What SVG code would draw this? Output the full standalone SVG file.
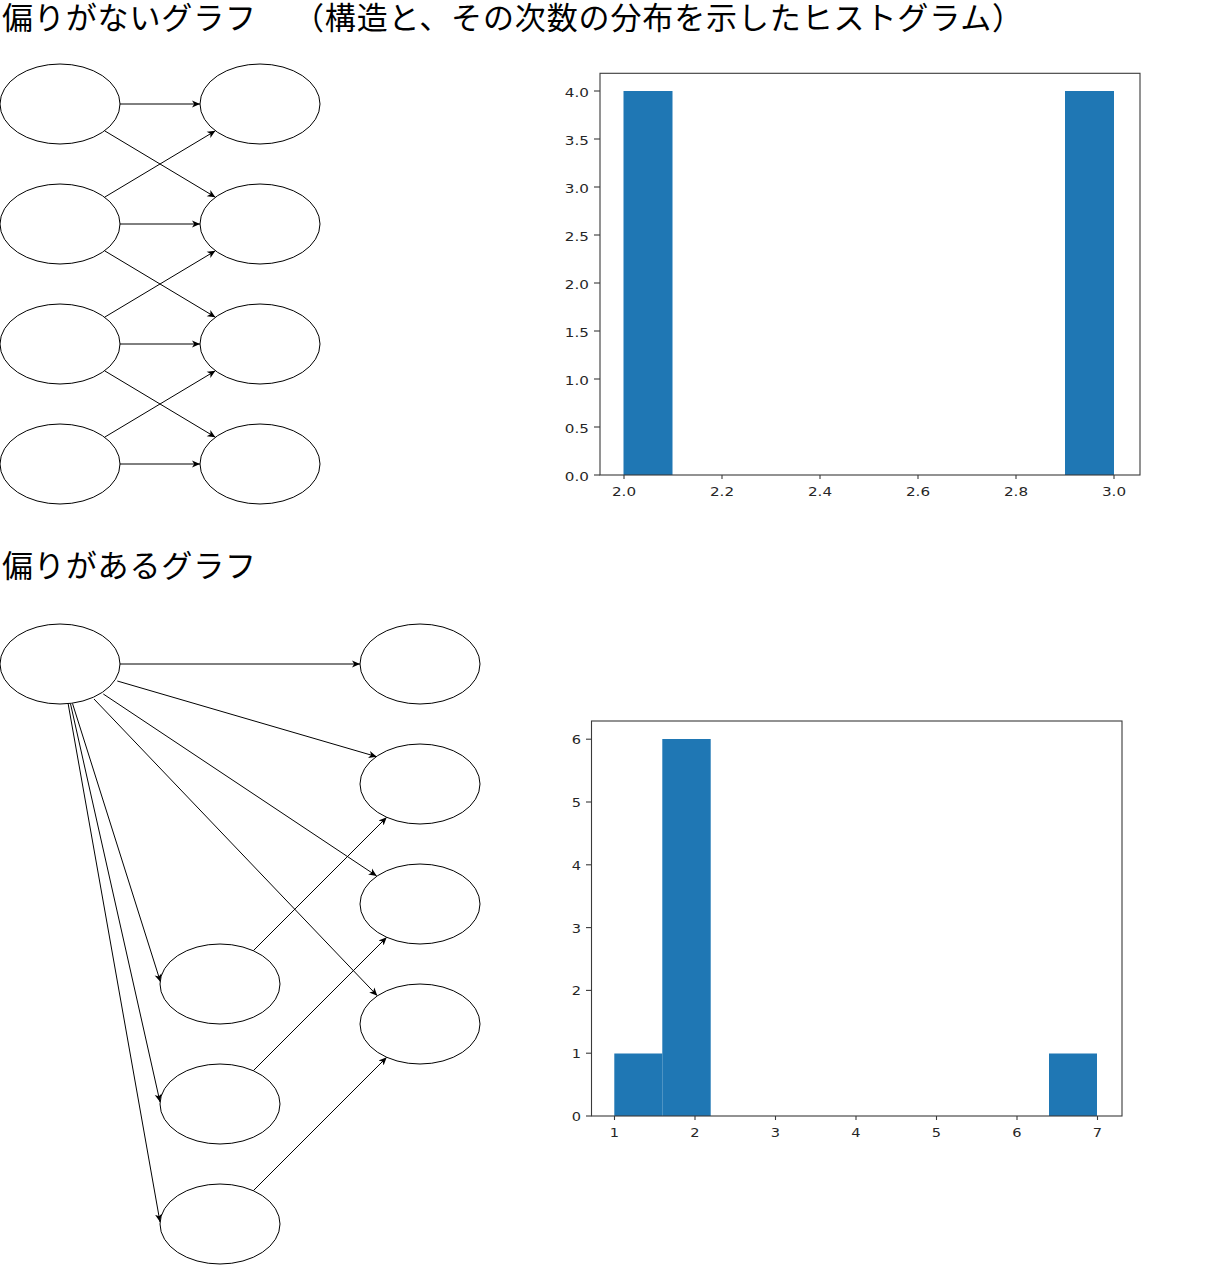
<svg xmlns="http://www.w3.org/2000/svg" width="1221" height="1265" viewBox="0 0 1221 1265">
<style>
.node{fill:#fff;stroke:#000;stroke-width:1}
.edge{fill:none;stroke:#000;stroke-width:1;marker-end:url(#arr)}
.title{font-family:"Noto Sans CJK JP","Noto Sans",sans-serif;font-size:31px;fill:#000}
.frame{fill:none;stroke:#3a3a3a;stroke-width:1.1}
.tick{stroke:#3a3a3a;stroke-width:1.1}
.bar{fill:#1f77b4}
.lbl1{font-family:"DejaVu Sans",sans-serif;font-size:11.5px;fill:#262626}
.lbl2{font-family:"DejaVu Sans",sans-serif;font-size:13px;fill:#262626}
</style>
<defs>
<marker id="arr" markerUnits="userSpaceOnUse" markerWidth="10" markerHeight="10" refX="8" refY="4" orient="auto" viewBox="0 0 10 8">
<path d="M0,0.4 L8,4 L0,7.6 L2.2,4 Z" fill="#000"/>
</marker>
</defs>
<rect width="1221" height="1265" fill="#fff"/>

<text class="title" x="2" y="29" textLength="254" lengthAdjust="spacing">偏りがないグラフ</text>
<text class="title" x="293" y="29" textLength="730" lengthAdjust="spacing">（構造と、その次数の分布を示したヒストグラム）</text>
<text class="title" x="2" y="577" textLength="254" lengthAdjust="spacing">偏りがあるグラフ</text>

<g id="connectors">
<line class="edge" x1="120" y1="104" x2="200" y2="104"/>
<line class="edge" x1="120" y1="224" x2="200" y2="224"/>
<line class="edge" x1="120" y1="344" x2="200" y2="344"/>
<line class="edge" x1="120" y1="464" x2="200" y2="464"/>
<line class="edge" x1="104.6" y1="130.8" x2="215.4" y2="197.2"/>
<line class="edge" x1="104.6" y1="197.2" x2="215.4" y2="130.8"/>
<line class="edge" x1="104.6" y1="250.8" x2="215.4" y2="317.2"/>
<line class="edge" x1="104.6" y1="317.2" x2="215.4" y2="250.8"/>
<line class="edge" x1="104.6" y1="370.8" x2="215.4" y2="437.2"/>
<line class="edge" x1="104.6" y1="437.2" x2="215.4" y2="370.8"/>

<line class="edge" x1="120" y1="664" x2="360" y2="664"/>
<line class="edge" x1="117.3" y1="681" x2="376.7" y2="756.7"/>
<line class="edge" x1="103.3" y1="694" x2="376.7" y2="876"/>
<line class="edge" x1="94" y1="699" x2="377.3" y2="995.7"/>
<line class="edge" x1="72.5" y1="703.5" x2="160.5" y2="982"/>
<line class="edge" x1="70.5" y1="703.8" x2="160" y2="1102"/>
<line class="edge" x1="68.2" y1="704" x2="160" y2="1222"/>
<line class="edge" x1="253.3" y1="950.7" x2="386.7" y2="817.3"/>
<line class="edge" x1="253.3" y1="1070.7" x2="386.7" y2="937.3"/>
<line class="edge" x1="253.3" y1="1190.7" x2="386.7" y2="1057.3"/>
</g>

<g id="n-u-l1"><ellipse class="node" cx="60" cy="104" rx="60" ry="40"/></g>
<g id="n-u-l2"><ellipse class="node" cx="60" cy="224" rx="60" ry="40"/></g>
<g id="n-u-l3"><ellipse class="node" cx="60" cy="344" rx="60" ry="40"/></g>
<g id="n-u-l4"><ellipse class="node" cx="60" cy="464" rx="60" ry="40"/></g>
<g id="n-u-r1"><ellipse class="node" cx="260" cy="104" rx="60" ry="40"/></g>
<g id="n-u-r2"><ellipse class="node" cx="260" cy="224" rx="60" ry="40"/></g>
<g id="n-u-r3"><ellipse class="node" cx="260" cy="344" rx="60" ry="40"/></g>
<g id="n-u-r4"><ellipse class="node" cx="260" cy="464" rx="60" ry="40"/></g>

<g id="n-b-hub"><ellipse class="node" cx="60" cy="664" rx="60" ry="40"/></g>
<g id="n-b-r1"><ellipse class="node" cx="420" cy="664" rx="60" ry="40"/></g>
<g id="n-b-r2"><ellipse class="node" cx="420" cy="784" rx="60" ry="40"/></g>
<g id="n-b-r3"><ellipse class="node" cx="420" cy="904" rx="60" ry="40"/></g>
<g id="n-b-r4"><ellipse class="node" cx="420" cy="1024" rx="60" ry="40"/></g>
<g id="n-b-m1"><ellipse class="node" cx="220" cy="984" rx="60" ry="40"/></g>
<g id="n-b-m2"><ellipse class="node" cx="220" cy="1104" rx="60" ry="40"/></g>
<g id="n-b-m3"><ellipse class="node" cx="220" cy="1224" rx="60" ry="40"/></g>

<g id="hist-top">
<rect class="bar" x="623.5" y="91" width="49" height="384"/>
<rect class="bar" x="1065" y="91" width="49" height="384"/>
<rect class="frame" x="600" y="73.3" width="540" height="401.7"/>
<g class="tick">
<line x1="594" y1="475" x2="600" y2="475"/><line x1="594" y1="427" x2="600" y2="427"/>
<line x1="594" y1="379" x2="600" y2="379"/><line x1="594" y1="331" x2="600" y2="331"/>
<line x1="594" y1="283" x2="600" y2="283"/><line x1="594" y1="235" x2="600" y2="235"/>
<line x1="594" y1="187" x2="600" y2="187"/><line x1="594" y1="139" x2="600" y2="139"/>
<line x1="594" y1="91" x2="600" y2="91"/>
<line x1="624" y1="475" x2="624" y2="479"/><line x1="722" y1="475" x2="722" y2="479"/>
<line x1="820" y1="475" x2="820" y2="479"/><line x1="918" y1="475" x2="918" y2="479"/>
<line x1="1016" y1="475" x2="1016" y2="479"/><line x1="1114" y1="475" x2="1114" y2="479"/>
</g>
<g class="lbl1" text-anchor="end">
<text transform="translate(589,481) scale(1.32,1)">0.0</text>
<text transform="translate(589,433) scale(1.32,1)">0.5</text>
<text transform="translate(589,385) scale(1.32,1)">1.0</text>
<text transform="translate(589,337) scale(1.32,1)">1.5</text>
<text transform="translate(589,289) scale(1.32,1)">2.0</text>
<text transform="translate(589,241) scale(1.32,1)">2.5</text>
<text transform="translate(589,193) scale(1.32,1)">3.0</text>
<text transform="translate(589,145) scale(1.32,1)">3.5</text>
<text transform="translate(589,97) scale(1.32,1)">4.0</text>
</g>
<g class="lbl1" text-anchor="middle">
<text transform="translate(624,496) scale(1.32,1)">2.0</text>
<text transform="translate(722,496) scale(1.32,1)">2.2</text>
<text transform="translate(820,496) scale(1.32,1)">2.4</text>
<text transform="translate(918,496) scale(1.32,1)">2.6</text>
<text transform="translate(1016,496) scale(1.32,1)">2.8</text>
<text transform="translate(1114,496) scale(1.32,1)">3.0</text>
</g>
</g>

<g id="hist-bottom">
<rect class="bar" x="614.3" y="1053.5" width="48" height="62.5"/>
<rect class="bar" x="662.3" y="739" width="48.4" height="377"/>
<rect class="bar" x="1049" y="1053.5" width="48" height="62.5"/>
<rect class="frame" x="591.5" y="721" width="530.5" height="395"/>
<g class="tick">
<line x1="586" y1="1116" x2="591.5" y2="1116"/><line x1="586" y1="1053.2" x2="591.5" y2="1053.2"/>
<line x1="586" y1="990.4" x2="591.5" y2="990.4"/><line x1="586" y1="927.6" x2="591.5" y2="927.6"/>
<line x1="586" y1="864.8" x2="591.5" y2="864.8"/><line x1="586" y1="802" x2="591.5" y2="802"/>
<line x1="586" y1="739.2" x2="591.5" y2="739.2"/>
<line x1="614.5" y1="1116" x2="614.5" y2="1120"/><line x1="695" y1="1116" x2="695" y2="1120"/>
<line x1="775.5" y1="1116" x2="775.5" y2="1120"/><line x1="856" y1="1116" x2="856" y2="1120"/>
<line x1="936.5" y1="1116" x2="936.5" y2="1120"/><line x1="1017" y1="1116" x2="1017" y2="1120"/>
<line x1="1097.5" y1="1116" x2="1097.5" y2="1120"/>
</g>
<g class="lbl2" text-anchor="end">
<text transform="translate(581,1121) scale(1.12,1)">0</text>
<text transform="translate(581,1058.2) scale(1.12,1)">1</text>
<text transform="translate(581,995.4) scale(1.12,1)">2</text>
<text transform="translate(581,932.6) scale(1.12,1)">3</text>
<text transform="translate(581,869.8) scale(1.12,1)">4</text>
<text transform="translate(581,807) scale(1.12,1)">5</text>
<text transform="translate(581,744.2) scale(1.12,1)">6</text>
</g>
<g class="lbl2" text-anchor="middle">
<text transform="translate(614.5,1137) scale(1.12,1)">1</text>
<text transform="translate(695,1137) scale(1.12,1)">2</text>
<text transform="translate(775.5,1137) scale(1.12,1)">3</text>
<text transform="translate(856,1137) scale(1.12,1)">4</text>
<text transform="translate(936.5,1137) scale(1.12,1)">5</text>
<text transform="translate(1017,1137) scale(1.12,1)">6</text>
<text transform="translate(1097.5,1137) scale(1.12,1)">7</text>
</g>
</g>
</svg>
